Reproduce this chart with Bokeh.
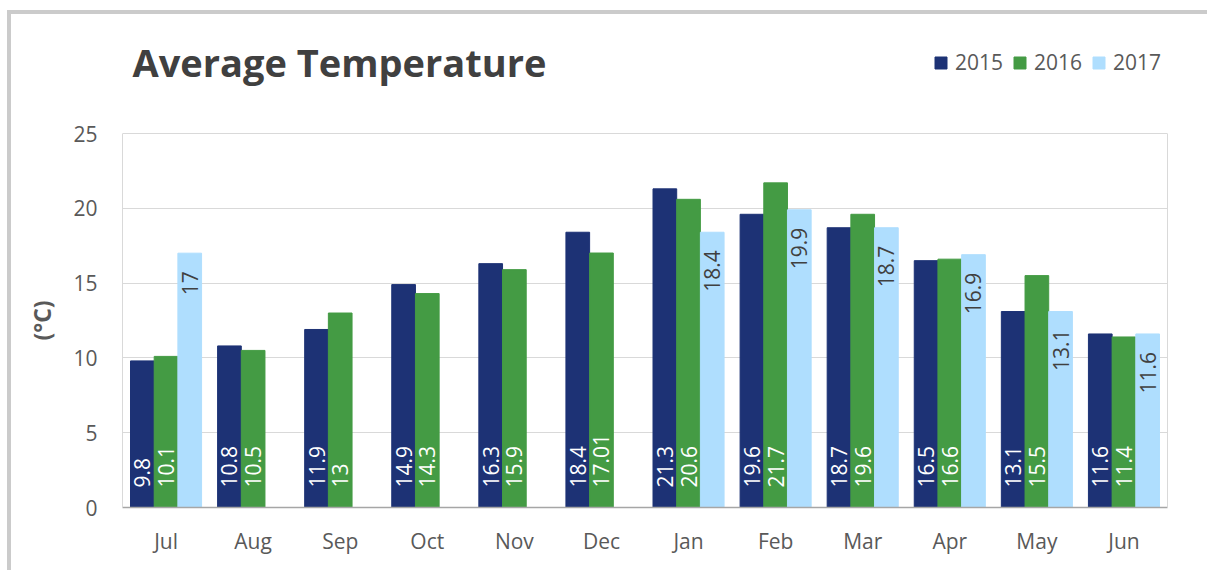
import math
from bokeh.plotting import figure
from bokeh.models import (ColumnDataSource, LabelSet, Label, Legend, LegendItem, FactorRange,
                          Range1d, FixedTicker, LinearAxis, Title)
from bokeh.transform import dodge
from bokeh.core.properties import value
from bokeh.embed import file_html
from bokeh.resources import INLINE

months = ["Jul", "Aug", "Sep", "Oct", "Nov", "Dec", "Jan", "Feb", "Mar", "Apr", "May", "Jun"]
t2015 = [9.8, 10.8, 11.9, 14.9, 16.3, 18.4, 21.3, 19.6, 18.7, 16.5, 13.1, 11.6]
t2016 = [10.1, 10.5, 13, 14.3, 15.9, 17.01, 20.6, 21.7, 19.6, 16.6, 15.5, 11.4]
t2017 = [17, None, None, None, None, None, 18.4, 19.9, 18.7, 16.9, 13.1, 11.6]
labels2015 = ["9.8", "10.8", "11.9", "14.9", "16.3", "18.4", "21.3", "19.6", "18.7", "16.5", "13.1", "11.6"]
labels2016 = ["10.1", "10.5", "13", "14.3", "15.9", "17.01", "20.6", "21.7", "19.6", "16.6", "15.5", "11.4"]
labels2017 = ["17", "", "", "", "", "", "18.4", "19.9", "18.7", "16.9", "13.1", "11.6"]
years = ["2015", "2016", "2017"]
y_ticks = [0, 5, 10, 15, 20, 25]
title_text = "Average Temperature"
y_label = "(°C)"
colors = ["#1d3275", "#449b44", "#afdefe"]

FONT = "Open Sans"

src = ColumnDataSource(dict(
    month=months,
    y2015=t2015, y2016=t2016,
    y2017=[v if v is not None else float("nan") for v in t2017],
    l2015=labels2015, l2016=labels2016, l2017=labels2017,
    zero=[0] * len(months),
))

# layout geometry (pixels)
W, H = 1200, 560
ML, MR, MT, MB = 111, 44, 16, 67
frame_h = H - MT - MB
axis_h = 374  # pixel height of the 0..25 axis
y_max = y_ticks[-1]

p = figure(
    x_range=FactorRange(*months, range_padding=0),
    y_range=Range1d(0, y_max * frame_h / axis_h),
    width=W, height=H,
    output_backend="svg", toolbar_location=None,
    min_border_left=ML, min_border_right=MR, min_border_top=MT, min_border_bottom=MB,
)
p.styles = {"border-top": "4px solid #cbcbcb", "border-left": "4px solid #cbcbcb",
            "margin-left": "7px", "margin-top": "10px"}

w = 0.272
r1 = p.vbar(x=dodge("month", -w, range=p.x_range), top="y2015", width=w, source=src,
            fill_color=colors[0], line_color=colors[0])
r2 = p.vbar(x=dodge("month", 0, range=p.x_range), top="y2016", width=w, source=src,
            fill_color=colors[1], line_color=colors[1])
r3 = p.vbar(x=dodge("month", w, range=p.x_range), top="y2017", width=w, source=src,
            fill_color=colors[2], line_color=colors[2])

common = dict(angle=math.pi / 2, text_font=value(FONT), text_font_size="21px",
              text_baseline="middle", source=src)
p.add_layout(LabelSet(x=dodge("month", -w, range=p.x_range), y="zero", text="l2015",
                      text_align="left", y_offset=20, text_color="white", **common))
p.add_layout(LabelSet(x=dodge("month", 0, range=p.x_range), y="zero", text="l2016",
                      text_align="left", y_offset=20, text_color="white", **common))
p.add_layout(LabelSet(x=dodge("month", w, range=p.x_range), y="y2017", text="l2017",
                      text_align="right", y_offset=-18, text_color="#404040", **common))

# title (screen units relative to the plot frame)
p.add_layout(Label(x=10, y=446, x_units="screen", y_units="screen", text=title_text,
                   text_font=FONT, text_font_style="bold", text_font_size="38px",
                   text_color="#404040", text_baseline="alphabetic", text_align="left"))

# axes
p.yaxis.ticker = FixedTicker(ticks=y_ticks)
p.yaxis.bounds = (0, y_max)
p.yaxis.axis_line_color = "#d9d9d9"
p.yaxis.major_tick_line_color = None
p.yaxis.minor_tick_line_color = None
p.yaxis.major_label_text_font = FONT
p.yaxis.major_label_text_font_size = "21px"
p.yaxis.major_label_text_color = "#595959"
p.yaxis.major_label_standoff = 19

# y-axis title, centred on the 0..25 part of the axis
p.add_layout(Title(text=y_label, align="left", offset=167, standoff=24,
                   vertical_align="middle",
                   text_font=FONT, text_font_size="23px", text_font_style="bold",
                   text_color="#595959"), "left")

right_axis = LinearAxis(ticker=FixedTicker(ticks=[]), bounds=(0, y_max),
                        axis_line_color="#d9d9d9", major_tick_line_color=None,
                        minor_tick_line_color=None, major_label_text_alpha=0)
p.add_layout(right_axis, "right")

p.xaxis.axis_line_color = "#a6a6a6"
p.xaxis.axis_line_width = 1.5
p.xaxis.major_tick_line_color = None
p.xaxis.minor_tick_line_color = None
p.xaxis.major_label_text_font = FONT
p.xaxis.major_label_text_font_size = "21px"
p.xaxis.major_label_text_color = "#595959"
p.xaxis.major_label_standoff = 13

p.xgrid.grid_line_color = None
p.ygrid.grid_line_color = "#d9d9d9"
p.outline_line_color = None

legend = Legend(
    items=[LegendItem(label=years[0], renderers=[r1]),
           LegendItem(label=years[1], renderers=[r2]),
           LegendItem(label=years[2], renderers=[r3])],
    orientation="horizontal", location=(811, 431),
    glyph_width=15, glyph_height=15, label_standoff=7, spacing=9,
    padding=0, margin=0, border_line_color=None, background_fill_alpha=0,
    label_text_font=FONT, label_text_font_size="21px", label_text_color="#595959",
)
p.add_layout(legend, "center")

open("out.html", "w").write(file_html(p, INLINE))
